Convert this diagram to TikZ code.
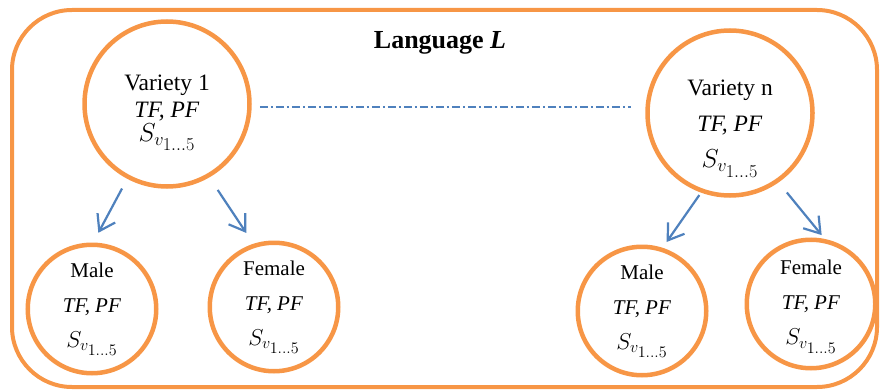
\documentclass[tikz,border=0pt]{standalone}
\usepackage{fix-cm}
\usepackage{fontspec}
\setmainfont{Liberation Serif}
\usetikzlibrary{arrows.meta}

\definecolor{boxorange}{HTML}{F79646}
\definecolor{linkblue}{HTML}{4F81BD}

\tikzset{
  group/.style={circle, draw=boxorange, line width=4.5pt, align=center, inner sep=0pt},
  variety/.style={group, minimum size=165pt},
  gender/.style={group, minimum size=128.5pt, font=\fontsize{21}{35}\selectfont},
  split/.style={draw=linkblue, line width=2.2pt, -{Straight Barb[length=15pt, width=20pt]}},
}
% score symbol at a given size
\newcommand{\svset}[1]{{\fontsize{#1}{#1}\selectfont$S_{v_{\scriptstyle 1\dots5}}$}}

\begin{document}
\begin{tikzpicture}[x=1pt, y=-1pt]
\useasboundingbox (0,0) rectangle (880,390);
\draw[boxorange, line width=4pt, rounded corners=60pt] (12,10) rectangle (877,387);
\node[font=\fontsize{26}{30}\selectfont\bfseries] (title) at (440,43) {Language \textit{L}};

\node[variety, font=\fontsize{23.5}{27}\selectfont] (v1) at (167,104) {\rule{0pt}{33pt}Variety 1\\ \textit{TF, PF}\\[-3pt] \svset{26}};
\node[variety, font=\fontsize{23.5}{36}\selectfont] (vn) at (730,113) {\rule{0pt}{47pt}Variety n\\ \textit{TF, PF}\\ \svset{26}};

\node[gender] (m1) at (92,309) {Male\\ \textit{TF, PF}\\ \svset{23}};
\node[gender] (f1) at (274,307) {Female\\ \textit{TF, PF}\\ \svset{23}};
\node[gender] (m2) at (642,311) {Male\\ \textit{TF, PF}\\ \svset{23}};
\node[gender] (f2) at (811,304) {\rule{0pt}{20pt}Female\\ \textit{TF, PF}\\ \svset{23}};

% varieties of the same language
\draw[linkblue, line width=1.5pt, dash pattern=on 8pt off 3pt on 2pt off 3pt, shorten <=8pt, shorten >=14pt] ([yshift=-3pt]v1.east) -- ([yshift=-3pt]v1.east -| vn.west);

% split by gender
\draw[split, shorten <=11pt, shorten >=11pt] (v1.242) -- (m1.89);
\draw[split, shorten <=15pt, shorten >=13pt] (v1.300) -- (f1.108);
\draw[split, shorten <=3pt, shorten >=7pt] (vn.250) -- (m2.72);
\draw[split, shorten <=13pt, shorten >=5pt] (vn.305) -- (f2.78);
\end{tikzpicture}
\end{document}
